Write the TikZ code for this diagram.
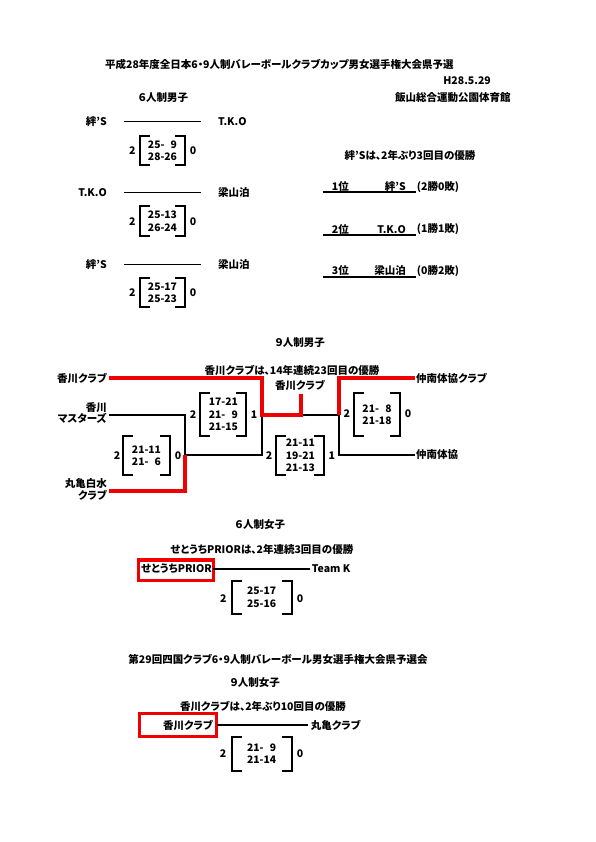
\documentclass[tikz,border=0pt]{standalone}
\usepackage{fontspec}
\setmainfont{Noto Sans CJK JP}[RawFeature=+palt]
\definecolor{wred}{RGB}{240,0,0}
\tikzset{
  txt/.style={inner sep=0pt, font=\fontsize{10.5}{12}\selectfont\bfseries},
  twoline/.style={inner sep=0pt, align=right, font=\fontsize{10.5}{11.5}\selectfont\bfseries},
  sc/.style={inner sep=0pt, align=center, font=\fontsize{10.3}{12.3}\selectfont\bfseries},
  brk/.style={line width=2pt},
  conn/.style={line width=1.6pt},
  winline/.style={line width=4pt, draw=wred},
  redframe/.style={draw=wred, line width=3.5pt},
  uline/.style={line width=2pt}
}
\newcommand\scbox[6]{%
  \node[sc, minimum width=#4, minimum height=#5] (#1) at (#2,#3) {#6};
  \draw[brk] ([xshift=10pt]#1.north west) -- (#1.north west) -- (#1.south west) -- ([xshift=10pt]#1.south west);
  \draw[brk] ([xshift=-10pt]#1.north east) -- (#1.north east) -- (#1.south east) -- ([xshift=-10pt]#1.south east);
}
\begin{document}
\begin{tikzpicture}[x=1pt,y=-1pt]
\useasboundingbox (0,0) rectangle (595,842);
\fill[white] (0,0) rectangle (595,842);

% header
\node[txt,anchor=west] (title) at (105,64) {平成28年度全日本6・9人制バレーボールクラブカップ男女選手権大会県予選};
\node[txt,anchor=east] (date) at (491,81) {H28.5.29};
\node[txt,anchor=west] (m6) at (138,98) {６人制男子};
\node[txt,anchor=west] (venue) at (395,98) {飯山総合運動公園体育館};

% 6-a-side men
\node[txt,anchor=east] (a1) at (107,121.7) {絆’S};
\node[txt,anchor=west] (b1) at (218,121.7) {T.K.O};
\draw[conn,shorten <=17pt,shorten >=17pt] (a1.east) -- (b1.west);
\scbox{s1}{162.5}{150.7}{45pt}{29pt}{25-\phantom{0}9\\28-26}
\node[txt] (s1l) at (132.3,150.7) {2};
\node[txt] (s1r) at (193,150.7) {0};

\node[txt,anchor=east] (a2) at (107,192.7) {T.K.O};
\node[txt,anchor=west] (b2) at (218,192.7) {梁山泊};
\draw[conn,shorten <=17pt,shorten >=17pt] (a2.east) -- (b2.west);
\scbox{s2}{162.5}{221.3}{45pt}{29.3pt}{25-13\\26-24}
\node[txt] (s2l) at (132.3,221.3) {2};
\node[txt] (s2r) at (193,221.3) {0};

\node[txt,anchor=east] (a3) at (107,264.3) {絆’S};
\node[txt,anchor=west] (b3) at (218,264.3) {梁山泊};
\draw[conn,shorten <=17pt,shorten >=17pt] (a3.east) -- (b3.west);
\scbox{s3}{162.5}{292.5}{45pt}{29pt}{25-17\\25-23}
\node[txt] (s3l) at (132.3,292.5) {2};
\node[txt] (s3r) at (193,292.5) {0};

% standings
\node[txt] (champ6) at (410,156) {絆’Sは、2年ぶり3回目の優勝};
\node[txt,anchor=west] (r1) at (331.7,186.7) {1位};
\node[txt,anchor=east] (n1) at (406,186.7) {絆’S};
\node[txt,anchor=west] (w1) at (416.7,186.7) {(2勝0敗)};
\coordinate (u1a) at (322.7,191.7); \coordinate (u1b) at (416,191.7);
\draw[uline] (u1a) -- (u1b);
\node[txt,anchor=west] (r2) at (331.7,229.3) {2位};
\node[txt,anchor=east] (n2) at (406,229.3) {T.K.O};
\node[txt,anchor=west] (w2) at (416.7,229.3) {(1勝1敗)};
\coordinate (u2a) at (322.7,235.2); \coordinate (u2b) at (416,235.2);
\draw[uline] (u2a) -- (u2b);
\node[txt,anchor=west] (r3) at (331.7,270.7) {3位};
\node[txt,anchor=east] (n3) at (406,270.7) {梁山泊};
\node[txt,anchor=west] (w3) at (416.7,270.7) {(0勝2敗)};
\coordinate (u3a) at (322.7,276.5); \coordinate (u3b) at (416,276.5);
\draw[uline] (u3a) -- (u3b);

% 9-a-side men
\node[txt] (m9) at (300,343) {９人制男子};
\node[txt] (champ9) at (292,370) {香川クラブは、14年連続23回目の優勝};
\node[txt] (champ9n) at (300,385) {香川クラブ};
\node[txt,anchor=east] (kc) at (107,378) {香川クラブ};
\node[twoline,anchor=east] (km) at (107,413) {香川\\マスターズ};
\node[twoline,anchor=east] (mh) at (107,489.5) {丸亀白水\\クラブ};
\node[txt,anchor=west] (nc) at (416,378) {仲南体協クラブ};
\node[txt,anchor=west] (nt) at (416,455) {仲南体協};

\coordinate (kcL) at (109,378);
\coordinate (kmL) at (109,415);
\coordinate (mhL) at (109,491);
\coordinate (j1) at (185,455);
\coordinate (j1t) at (185,415);
\coordinate (j1b) at (185,491);
\coordinate (j2) at (261.7,415);
\coordinate (j2t) at (261.7,378);
\coordinate (j2b) at (261.7,455);
\coordinate (ch) at (300.7,415);
\coordinate (chT) at (300.7,394);
\coordinate (j3) at (339,415);
\coordinate (j3t) at (339,378);
\coordinate (j3b) at (339,455);
\coordinate (ncR) at (415,378);
\coordinate (ntR) at (415,455);

\draw[conn] (kmL) -- (j1t) -- (j1);
\draw[conn] (j1) -- (j2b) -- (j2);
\draw[conn] (ch) -- (j3);
\draw[conn] (j3) -- (j3b) -- (ntR);
\draw[winline] (kcL) -- (j2t) -- (j2) -- (ch) -- (chT);
\draw[winline] (mhL) -- (j1b) -- (j1);
\draw[winline] (j3) -- (j3t) -- (ncR);

\scbox{t1}{146.5}{455.5}{47pt}{39pt}{21-11\\21-\phantom{0}6}
\node[txt] (t1l) at (117,456) {2};
\node[txt] (t1r) at (178,456) {0};
\scbox{t2}{223.3}{414.5}{45.3pt}{43pt}{17-21\\21-\phantom{0}9\\21-15}
\node[txt] (t2l) at (193,415) {2};
\node[txt] (t2r) at (254,415) {1};
\scbox{t3}{300.3}{455.5}{47.3pt}{39pt}{21-11\\19-21\\21-13}
\node[txt] (t3l) at (269,456) {2};
\node[txt] (t3r) at (331.7,456) {1};
\scbox{t4}{377}{414.5}{46pt}{43pt}{21-\phantom{0}8\\21-18}
\node[txt] (t4l) at (346.7,414) {2};
\node[txt] (t4r) at (408,414) {0};

% 6-a-side women
\node[txt] (w6) at (260,525) {６人制女子};
\node[txt] (wc6) at (262,549.3) {せとうちPRIORは、2年連続3回目の優勝};
\draw[redframe] (138.3,560) rectangle (213.3,580.7);
\node[txt,anchor=east] (sp) at (212,569) {せとうちPRIOR};
\node[txt,anchor=west] (tk) at (311.7,569) {Team K};
\draw[conn,shorten <=1.3pt,shorten >=1.7pt] (sp.east) -- (tk.west);
\scbox{s6w}{261.7}{597.2}{60pt}{32.3pt}{25-17\\25-16}
\node[txt] (s6l) at (223.3,599) {2};
\node[txt] (s6r) at (300,599) {0};

% 29th Shikoku
\node[txt] (title2) at (278,659) {第29回四国クラブ6・9人制バレーボール男女選手権大会県予選会};
\node[txt] (w9) at (255,682.3) {９人制女子};
\node[txt] (wc9) at (263,706.7) {香川クラブは、2年ぶり10回目の優勝};
\draw[redframe] (139.3,713.3) rectangle (216.7,736.7);
\node[txt,anchor=east] (kc9) at (213,725) {香川クラブ};
\node[txt,anchor=west] (mk) at (310.7,725) {丸亀クラブ};
\draw[conn,shorten <=3.7pt,shorten >=2.4pt] (kc9.east) -- (mk.west);
\scbox{s9w}{261.7}{753.7}{60pt}{34pt}{21-\phantom{0}9\\21-14}
\node[txt] (s9l) at (223,754) {2};
\node[txt] (s9r) at (300,754) {0};
\end{tikzpicture}
\end{document}
